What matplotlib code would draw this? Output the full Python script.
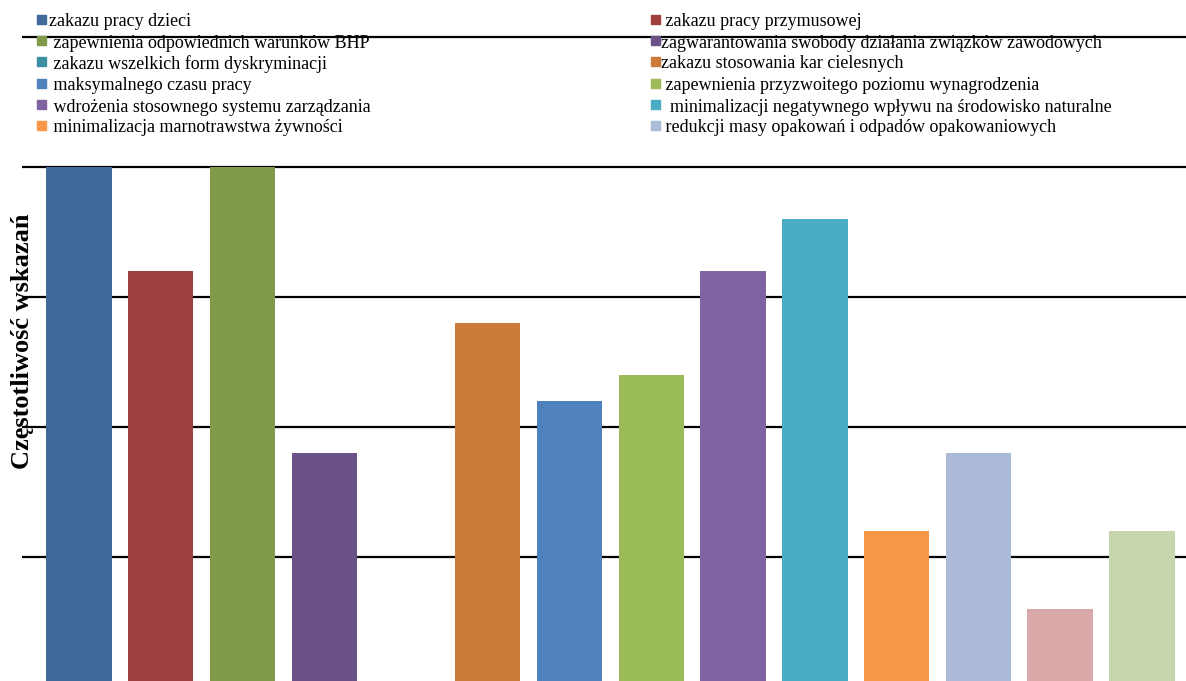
import matplotlib

matplotlib.use("Agg")

import matplotlib.pyplot as plt
from matplotlib.patches import Rectangle

# data
labels = [
    "zakazu pracy dzieci",
    " zakazu pracy przymusowej",
    " zapewnienia odpowiednich warunków BHP",
    "zagwarantowania swobody działania związków zawodowych",
    " zakazu wszelkich form dyskryminacji",
    "zakazu stosowania kar cielesnych",
    " maksymalnego czasu pracy",
    " zapewnienia przyzwoitego poziomu wynagrodzenia",
    " wdrożenia stosownego systemu zarządzania",
    "  minimalizacji negatywnego wpływu na środowisko naturalne",
    " minimalizacja marnotrawstwa żywności",
    " redukcji masy opakowań i odpadów opakowaniowych",
]
values = [20, 16, 20, 9, 0, 14, 11, 12, 16, 18, 6, 9, 3, 6]
colors = [
    "#3F6A9A", "#9E4040", "#80994A", "#6A5188", "#3B8FA0", "#CC7A38", "#4F81BD",
    "#9BBB59", "#8064A2", "#4BACC6", "#F79646", "#AABAD7", "#D9A9A9", "#C6D5AB",
]

W, H = 1186, 681
fig = plt.figure(figsize=(W / 100, H / 100), dpi=100)
plt.rcParams["font.family"] = ["Liberation Serif", "DejaVu Serif"]

# axes: gridline 0 sits a few px below the image edge, 25 at y=37
ymax = 25.3
ax = fig.add_axes([22 / W, -6 / H, (W - 22) / W, 650 * ymax / 25 / H])
xs = list(range(len(values)))
ax.bar(xs, values, width=0.8, color=colors, zorder=2)
ax.set_xlim(-0.697, 13.54)
ax.set_ylim(0, ymax)
ax.set_yticks([5, 10, 15, 20, 25])
ax.yaxis.grid(True, color="black", linewidth=1.6, zorder=1)
ax.set_axisbelow(True)
ax.tick_params(left=False, bottom=False, labelleft=False, labelbottom=False)
for s in ax.spines.values():
    s.set_visible(False)

fig.text(23 / W, 1 - 341 / H, "Częstotliwość wskazań", rotation=90,
         ha="center", va="center", fontsize=19, fontweight="bold")

# legend in two columns, drawn by hand
row_y = [21, 42, 63, 85, 106, 127]
for i, lab in enumerate(labels):
    col, row = i % 2, i // 2
    mx = 37 if col == 0 else 651
    y = row_y[row]
    fig.patches.append(Rectangle((mx / W, 1 - (y + 3) / H), 9 / W, 9 / H,
                                 transform=fig.transFigure, color=colors[i]))
    tx = mx + (12 if col == 0 else 10)
    fig.text(tx / W, 1 - (y + 1) / H, lab, ha="left", va="center", fontsize=13)

fig.savefig("out.png", dpi=100)
